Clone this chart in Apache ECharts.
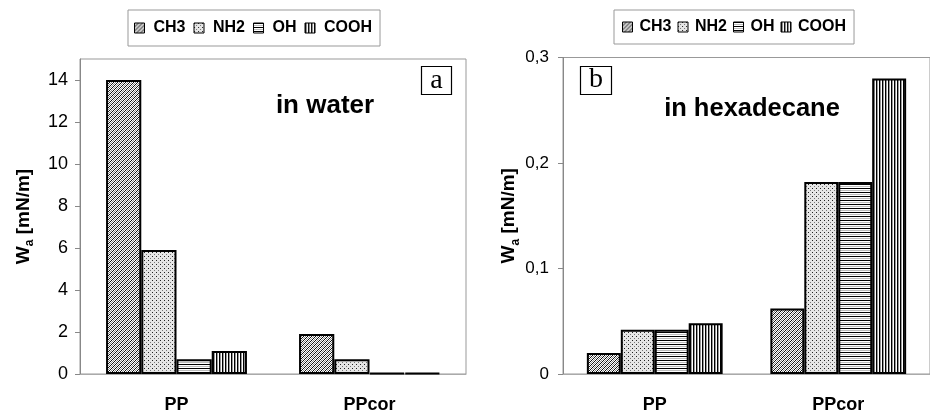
<!DOCTYPE html>
<html>
<head>
<meta charset="utf-8">
<script src="https://cdn.jsdelivr.net/npm/echarts@6/dist/echarts.min.js"></script>
<style>html,body{margin:0;padding:0;background:#fff;}#c{width:930px;height:414px;}</style>
</head>
<body>
<div id="c"></div>
<script>
// ---- data ----
const categories = ['PP', 'PPcor'];
const seriesNames = ['CH3', 'NH2', 'OH', 'COOH'];
// panel a: in water
const waterCH3 = [14.0, 1.9];
const waterNH2 = [5.9, 0.7];
const waterOH = [0.7, 0.05];
const waterCOOH = [1.1, 0.05];
// panel b: in hexadecane
const hexCH3 = [0.02, 0.062];
const hexNH2 = [0.042, 0.182];
const hexOH = [0.042, 0.182];
const hexCOOH = [0.048, 0.28];
// tick labels
const yTicksWater = [0, 2, 4, 6, 8, 10, 12, 14];
const yTicksHex = [0, 0.1, 0.2, 0.3];

const FONT = '"Liberation Sans", Arial, sans-serif';
const SERIF = '"Liberation Serif", "Times New Roman", serif';

function makePattern(w, h, draw) {
  const c = document.createElement('canvas');
  c.width = w; c.height = h;
  const g = c.getContext('2d');
  g.fillStyle = '#fff'; g.fillRect(0, 0, w, h);
  draw(g);
  return { image: c, repeat: 'repeat' };
}
const patCH3 = makePattern(4, 4, g => {
  for (let i = 0; i < 4; i++) {
    g.fillStyle = '#111'; g.fillRect(i, 3 - i, 1, 1);
    g.fillStyle = '#8a8a8a'; g.fillRect(i, (5 - i) % 4, 1, 1);
  }
});
const patNH2 = makePattern(4, 4, g => {
  g.fillStyle = '#e6e6e6'; g.fillRect(0, 0, 4, 4);
  g.fillStyle = '#222'; g.fillRect(0, 0, 1, 1);
  g.fillStyle = '#777'; g.fillRect(2, 2, 1, 1);
});
const patOH = makePattern(4, 4, g => {
  g.fillStyle = '#000'; g.fillRect(0, 0, 4, 1);
  g.fillStyle = '#bbb'; g.fillRect(0, 2, 4, 1);
});
const patCOOH = makePattern(3, 4, g => {
  g.fillStyle = '#000'; g.fillRect(0, 0, 1, 4);
  g.fillStyle = '#999'; g.fillRect(1, 0, 1, 4);
});
const patterns = [patCH3, patNH2, patOH, patCOOH];
const waterData = [waterCH3, waterNH2, waterOH, waterCOOH];
const hexData = [hexCH3, hexNH2, hexOH, hexCOOH];

const chart = echarts.init(document.getElementById('c'), null, { renderer: 'canvas' });

function yName() {
  return {
    name: '{w|W}{s|a}{w| [mN/m]}',
    nameLocation: 'middle',
    nameTextStyle: {
      rich: {
        w: { fontFamily: FONT, fontSize: 19, fontWeight: 'bold', color: '#000' },
        s: { fontFamily: FONT, fontSize: 12, fontWeight: 'bold', color: '#000', verticalAlign: 'bottom', padding: [0, 0, -3, 0] }
      }
    }
  };
}

function xAxisCfg(gi) {
  return {
    type: 'category', gridIndex: gi, data: categories,
    axisLine: { lineStyle: { color: '#aaa', width: 1 } },
    axisTick: { inside: true, length: 5, lineStyle: { color: '#999' } },
    axisLabel: { fontFamily: FONT, fontSize: 18, fontWeight: 'bold', color: '#000', margin: 22 }
  };
}

const legendCommon = {
  selectedMode: false,
  orient: 'horizontal',
  borderColor: '#999', borderWidth: 1,
  itemWidth: 10, itemHeight: 10,
  icon: 'rect',
  itemStyle: { borderColor: '#000', borderWidth: 1 },
  data: seriesNames
};

const series = [];
seriesNames.forEach((n, i) => {
  series.push({
    name: n, type: 'bar', xAxisIndex: 0, yAxisIndex: 0,
    data: waterData[i], barGap: '0%', barCategoryGap: '27%',
    itemStyle: { color: patterns[i], borderColor: '#000', borderWidth: 2 }
  });
});
seriesNames.forEach((n, i) => {
  series.push({
    name: n, type: 'bar', xAxisIndex: 1, yAxisIndex: 1,
    data: hexData[i], barGap: '0%', barCategoryGap: '26%',
    itemStyle: { color: patterns[i], borderColor: '#000', borderWidth: 2 }
  });
});

const option = {
  animation: false,
  backgroundColor: '#fff',
  legend: [
    Object.assign({}, legendCommon, {
      left: 128, top: 10, padding: [10, 8, 10, 6], itemGap: 8,
      textStyle: { fontFamily: FONT, fontSize: 16, fontWeight: 'bold', color: '#000', padding: [0, 0, 0, 4] }
    }),
    Object.assign({}, legendCommon, {
      left: 614, top: 10, padding: [9, 8, 9, 8], itemGap: 6,
      textStyle: { fontFamily: FONT, fontSize: 16, fontWeight: 'bold', color: '#000', padding: [0, 0, 0, 2] }
    })
  ],
  grid: [
    { left: 80, top: 59, width: 386, height: 315, show: true, borderColor: '#999', borderWidth: 1, containLabel: false },
    { left: 563, top: 57.5, width: 380, height: 316.5, show: true, borderColor: '#999', borderWidth: 1, containLabel: false }
  ],
  xAxis: [xAxisCfg(0), xAxisCfg(1)],
  yAxis: [
    Object.assign({
      type: 'value', gridIndex: 0, min: 0, max: 15,
      nameGap: 47,
      axisLine: { show: true, lineStyle: { color: '#888' } },
      axisTick: { show: true, length: 5, lineStyle: { color: '#888' }, customValues: yTicksWater },
      axisLabel: { fontFamily: FONT, fontSize: 18, color: '#000', margin: 12, customValues: yTicksWater },
      splitLine: { show: false }
    }, yName()),
    Object.assign({
      type: 'value', gridIndex: 1, min: 0, max: 0.3,
      nameGap: 44,
      axisLine: { show: true, lineStyle: { color: '#888' } },
      axisTick: { show: true, length: 5, lineStyle: { color: '#888' }, customValues: yTicksHex },
      axisLabel: {
        fontFamily: FONT, fontSize: 17, color: '#000', margin: 14, customValues: yTicksHex,
        formatter: v => String(Math.round(v * 10) / 10).replace('.', ',')
      },
      splitLine: { show: false }
    }, yName())
  ],
  graphic: [
    { type: 'rect', shape: { x: 421.5, y: 66.5, width: 30, height: 28 }, style: { fill: '#fff', stroke: '#000', lineWidth: 1.2 } },
    { type: 'text', x: 436.5, y: 80.5, style: { text: 'a', font: '28px ' + SERIF, fill: '#000', align: 'center', verticalAlign: 'middle' } },
    { type: 'rect', shape: { x: 580.5, y: 66.5, width: 31, height: 28 }, style: { fill: '#fff', stroke: '#000', lineWidth: 1.2 } },
    { type: 'text', x: 596, y: 79.5, style: { text: 'b', font: '28px ' + SERIF, fill: '#000', align: 'center', verticalAlign: 'middle' } },
    { type: 'text', x: 325, y: 106, style: { text: 'in water', font: 'bold 26px ' + FONT, fill: '#000', align: 'center', verticalAlign: 'middle' } },
    { type: 'text', x: 752, y: 109, style: { text: 'in hexadecane', font: 'bold 25.5px ' + FONT, fill: '#000', align: 'center', verticalAlign: 'middle' } }
  ],
  series: series
};
chart.setOption(option);
</script>
</body>
</html>
